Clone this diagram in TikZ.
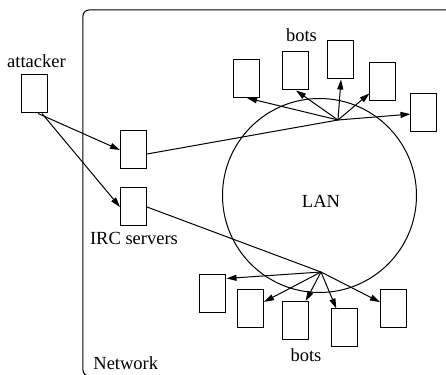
\documentclass[tikz,border=0pt]{standalone}
\usepackage{fontspec}
\setmainfont{Liberation Serif}
\usetikzlibrary{arrows.meta}
\begin{document}
\begin{tikzpicture}[x=0.5pt,y=-0.5pt,
 box/.style={draw,line width=0.5pt,minimum width=13pt,minimum height=19pt,inner sep=0pt},
 lbl/.style={inner sep=0pt,anchor=base,font=\fontsize{9.25}{11}\selectfont},
 con/.style={line width=0.5pt},
 arr/.style={con,-{Triangle[length=5pt,width=3pt]}}]
\clip (0,0) rectangle (446,375);
\useasboundingbox (0,0) rectangle (446,375);
% network frame
\draw[line width=0.5pt,rounded corners=3pt] (83,10) rectangle (470,376);
\node[lbl,anchor=base west] (netl) at (93,370) {Network};
% LAN
\node[circle,draw,line width=0.5pt,minimum size=97pt,inner sep=0pt] (lan) at (319.5,195.5) {};
\node[lbl] (lanl) at (321,207.5) {LAN};
% attacker
\node[box] (att) at (35,94) {};
\node[lbl] (attl) at (36.5,68) {attacker};
% IRC servers
\node[box] (irc1) at (133.5,150) {};
\node[box] (irc2) at (133.5,207) {};
\node[lbl] (ircl) at (134,245) {IRC servers};
% top bots
\node[box] (bot1) at (247,78.5) {};
\node[box] (bot2) at (296,71) {};
\node[box] (bot3) at (341,60) {};
\node[box] (bot4) at (383,82) {};
\node[box] (bot5) at (424,113) {};
\node[lbl] (botl1) at (301.5,41.5) {bots};
% bottom bots
\node[box] (b1) at (213,294) {};
\node[box] (b2) at (250.5,309) {};
\node[box] (b3) at (295.5,320.5) {};
\node[box] (b4) at (344.5,328) {};
\node[box] (b5) at (393.5,309) {};
\node[lbl] (botl2) at (306,362) {bots};
% hubs
\coordinate (hub1) at (338,120);
\coordinate (hub2) at (321,272);
% connectors
\draw[arr] ([xshift=1.5pt]att.south) -- (irc1.west);
\draw[arr] ([xshift=3.5pt]att.south) -- (irc2.west);
\draw[con] ([yshift=-2pt]irc1.east) -- (hub1);
\draw[con] (irc2.east) -- (hub2);
\draw[arr] (hub1) -- (bot1.south);
\draw[arr] (hub1) -- (bot2.south);
\draw[arr] (hub1) -- (bot3.south);
\draw[arr] (hub1) -- (bot4);
\draw[arr] (hub1) -- (bot5);
\draw[arr] (hub2) -- (b1.49);
\draw[arr] (hub2) -- (b2);
\draw[arr] (hub2) -- (b3);
\draw[arr] (hub2) -- (b4);
\draw[arr] (hub2) -- (b5);
\end{tikzpicture}
\end{document}
